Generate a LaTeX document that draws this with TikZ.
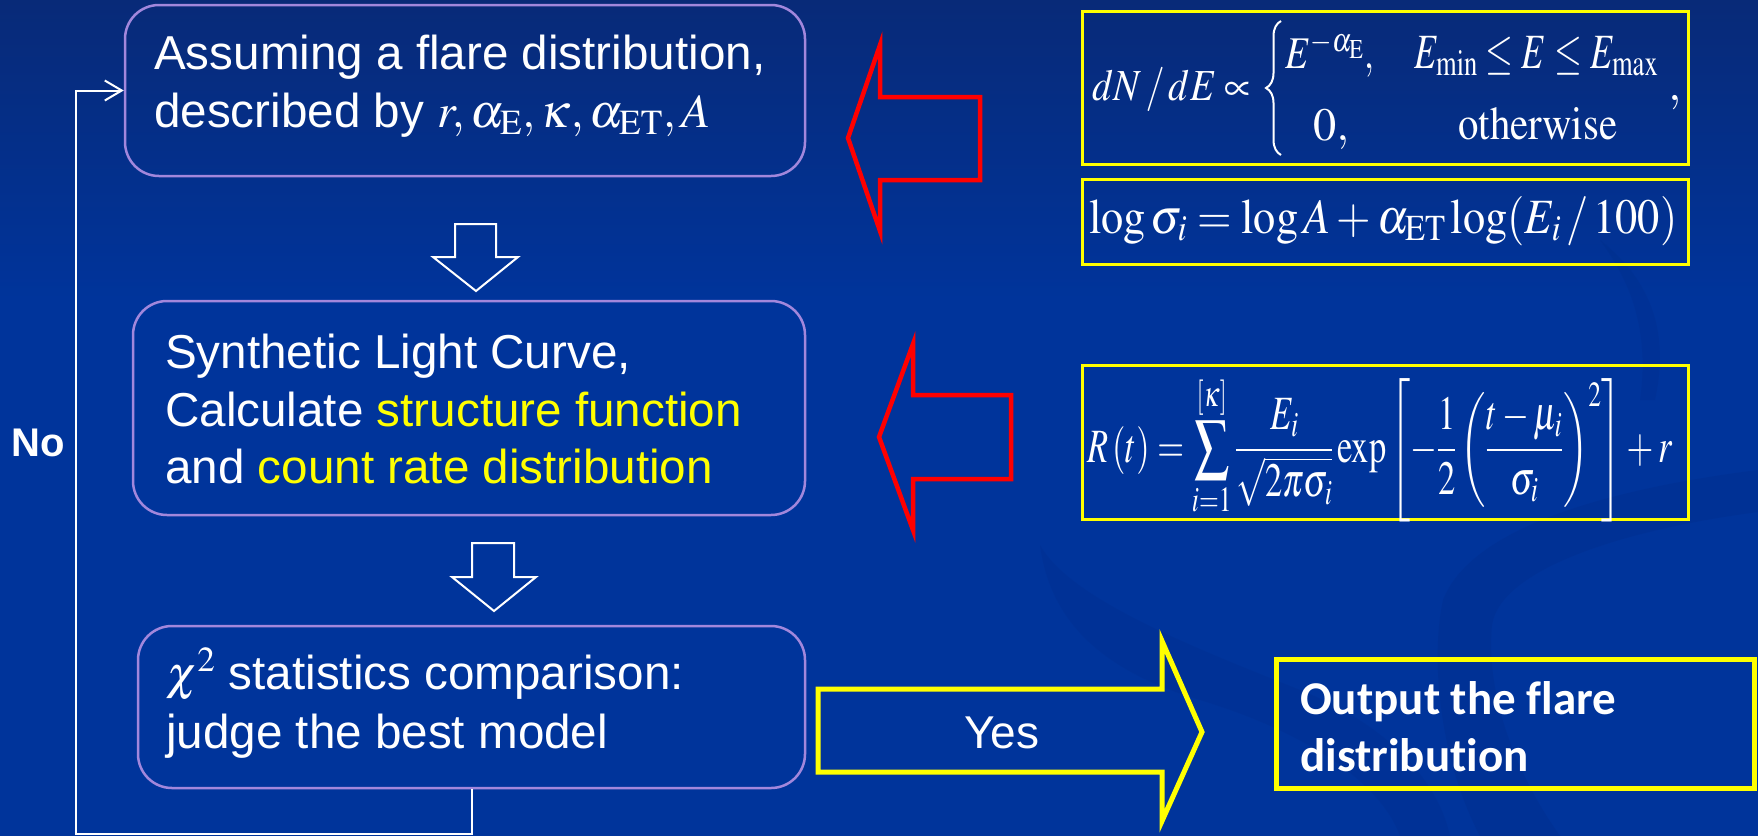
\documentclass[tikz,border=0pt]{standalone}
\usepackage{mathptmx}
\usepackage[no-math]{fontspec}
\setmainfont{Liberation Sans}
\newfontfamily\calib[Ligatures={NoCommon,NoRare,NoContextual}]{Carlito}
\usepackage{graphicx}
\usetikzlibrary{arrows.meta,decorations.pathreplacing}
\definecolor{bgmain}{HTML}{00349B}
\definecolor{bgtop}{HTML}{082A78}
\definecolor{swirlc}{HTML}{00267A}
\definecolor{lav}{HTML}{A287DC}
\definecolor{yel}{HTML}{FFFF00}
\definecolor{redc}{HTML}{FF0000}
\tikzset{
  flowbox/.style={draw=lav, line width=2.5pt, rounded corners=34pt, inner sep=0pt},
  fbox/.style={draw=yel, line width=3pt, inner sep=0pt},
  outbox/.style={draw=yel, line width=5pt, inner sep=0pt},
  txt/.style={text=white, inner sep=0pt, anchor=base west, font=\fontsize{47.6}{58}\selectfont},
  formula/.style={text=white, inner sep=0pt, anchor=base west, font=\fontsize{40}{48}\selectfont},
  wline/.style={draw=white, line width=2pt},
  hollow/.style={draw=white, line width=2pt, line join=miter},
  redarrow/.style={draw=redc, line width=4.5pt, line join=miter},
  yelarrow/.style={draw=yel, line width=5pt, line join=miter},
}
\begin{document}
\begin{tikzpicture}[x=1pt,y=-1pt]
\useasboundingbox (0,0) rectangle (1758,836);
\fill[bgmain] (0,0) rectangle (1758,836);
\shade[top color=bgtop, bottom color=bgmain] (0,0) rectangle (1758,300);
% faint background swirls
\fill[swirlc, opacity=0.18] (1443,600) .. controls (1470,530) and (1600,490) .. (1758,470)
  -- (1758,512) .. controls (1620,530) and (1500,570) .. (1492,625)
  .. controls (1485,700) and (1520,780) .. (1560,836) -- (1480,836)
  .. controls (1440,760) and (1430,660) .. (1443,600) -- cycle;
\fill[swirlc, opacity=0.15] (1040,545) .. controls (1070,600) and (1200,650) .. (1300,690)
  .. controls (1400,730) and (1440,790) .. (1450,836) -- (1400,836)
  .. controls (1380,780) and (1300,730) .. (1200,700)
  .. controls (1100,670) and (1050,620) .. (1040,545) -- cycle;
\fill[swirlc, opacity=0.15] (1600,240) .. controls (1650,280) and (1670,330) .. (1655,400)
  -- (1640,400) .. controls (1650,330) and (1630,280) .. (1600,240) -- cycle;

% flow boxes
\node[flowbox, minimum width=680pt, minimum height=171pt] (box1) at (465,90.5) {};
\node[flowbox, minimum width=672pt, minimum height=214pt] (box2) at (469,408) {};
\node[flowbox, minimum width=667pt, minimum height=162pt] (box3) at (471.5,707) {};

\node[txt] (t1a) at (154,69) {Assuming a flare distribution,};
\node[txt] (t1b) at (154,127) {described by $r, \alpha_{\mathrm{E}}, \kappa, \alpha_{\mathrm{ET}}, A$};
\node[txt] (t2a) at (165,368) {Synthetic Light Curve,};
\node[txt] (t2b) at (165,426) {Calculate \textcolor{yel}{structure function}};
\node[txt] (t2c) at (165,483) {and \textcolor{yel}{count rate distribution}};
\node[txt] (t3a) at (166,689) {$\chi^2$ statistics comparison:};
\node[txt] (t3b) at (166,748) {judge the best model};

% hollow down arrows
\draw[hollow] (455,224) -- (496,224) -- (496,257) -- (518,257) -- (476,291) -- (433,257) -- (455,257) -- cycle;
\draw[hollow] (472,543) -- (514,543) -- (514,577) -- (536,577) -- (494,611) -- (452,577) -- (472,577) -- cycle;

% feedback loop
\coordinate (fbcorner) at (76,834);
\draw[wline, -{Straight Barb[length=17pt,width=20pt,line width=2pt]}] (box3.south) |- (fbcorner) |- (box1.west);
\node[text=white, inner sep=0pt, anchor=base west, font=\fontsize{40}{48}\selectfont\bfseries] (no) at (11,456) {No};

% red arrows
\draw[redarrow] (848,138) -- (880,45) -- (880,97) -- (980,97) -- (980,180) -- (880,180) -- (880,231) -- cycle;
\draw[redarrow] (879,437) -- (913,344) -- (913,395) -- (1011,395) -- (1011,479) -- (913,479) -- (913,530) -- cycle;

% formula boxes
\node[fbox, minimum width=606pt, minimum height=153pt] (fA) at (1385,87.5) {};
\node[fbox, minimum width=606pt, minimum height=85pt] (fB) at (1385,221.5) {};
\node[fbox, minimum width=606pt, minimum height=154pt] (fC) at (1385,442) {};

% formula 1, assembled piece by piece
\node[formula] (f1a) at (1092,100) {\resizebox{160pt}{33pt}{$dN\,/\,dE\propto$}};
\draw[white, line width=2pt, decorate, decoration={brace, amplitude=15pt}] (1281,155) -- (1281,21);
\node[formula] (f1b) at (1285,68) {\resizebox{89pt}{36pt}{$E^{-\alpha_{\mathrm{E}}},$}};
\node[formula] (f1c) at (1414,68) {\resizebox{244pt}{32pt}{$E_{\min}\le E\le E_{\max}$}};
\node[formula] (f1d) at (1313,140) {\resizebox{!}{31pt}{$0,$}};
\node[formula] (f1e) at (1458,139) {\resizebox{159pt}{32pt}{$\mathrm{otherwise}$}};
\node[formula, font=\fontsize{48}{58}\selectfont] (f1f) at (1668,100) {$,$};

\node[formula] (f2) at (1089,233) {\resizebox{588pt}{37pt}{$\log\sigma_i = \log A + \alpha_{\mathrm{ET}}\log(E_i\,/\,100)$}};
\node[formula] (f3) at (1087,462) {\resizebox{585pt}{87pt}{$\displaystyle R\left(t\right) = \sum_{i=1}^{[\kappa]}\frac{E_i}{\sqrt{2\pi\sigma_i}}\exp\left[-\frac{1}{2}\left(\frac{t-\mu_i}{\sigma_i}\right)^{2}\right]+r$}};

% yes arrow
\draw[yelarrow] (818,689) -- (1162,689) -- (1162,641) -- (1202,732) -- (1162,821) -- (1162,772) -- (818,772) -- cycle;
\node[text=white, inner sep=0pt, anchor=base, font=\fontsize{46}{56}\selectfont] (yes) at (1002,748) {Yes};

% output box
\node[outbox, minimum width=478pt, minimum height=129pt] (out) at (1515,723.5) {};
\node[text=white, inner sep=0pt, anchor=base west, font=\fontsize{47}{57}\selectfont\calib\bfseries] (o1) at (1300,714) {Output the flare};
\node[text=white, inner sep=0pt, anchor=base west, font=\fontsize{47}{57}\selectfont\calib\bfseries] (o2) at (1300,771) {distribution};
\end{tikzpicture}
\end{document}
